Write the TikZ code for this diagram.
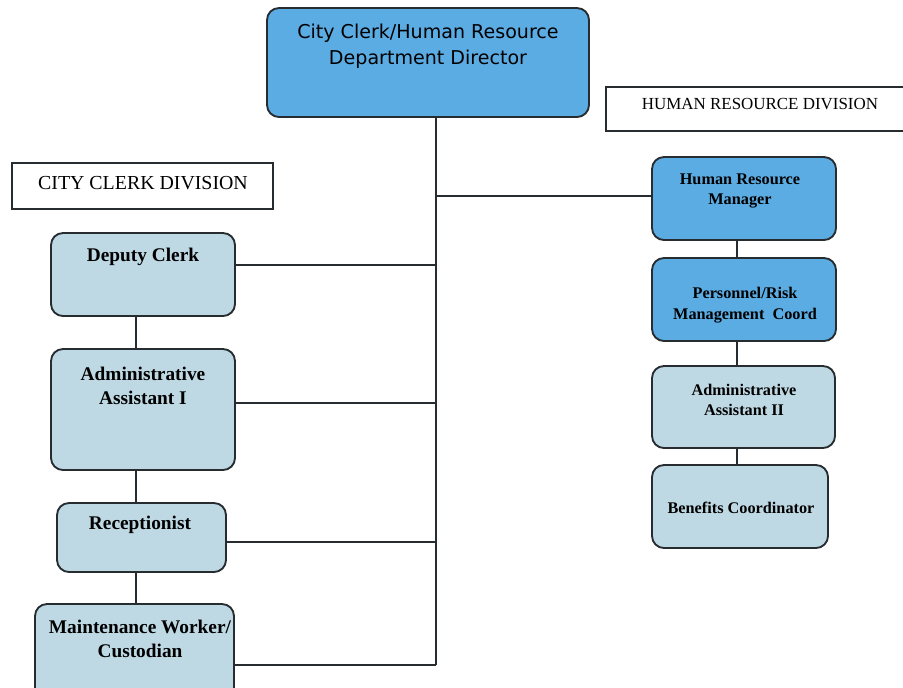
\documentclass[tikz,border=0pt]{standalone}
\usepackage{fontspec}
\setmainfont{Liberation Serif}
\newfontfamily\headfont{DejaVu Sans}
\usetikzlibrary{fit}
\definecolor{darkbox}{RGB}{92,172,228}
\definecolor{lightbox}{RGB}{190,217,228}
\definecolor{edge}{RGB}{38,44,48}
\tikzset{
  orgbox/.style={draw=edge, line width=1.4pt, rounded corners=9pt, inner sep=0pt},
  darkunit/.style={orgbox, fill=darkbox},
  lightunit/.style={orgbox, fill=lightbox},
  divbox/.style={draw=edge, line width=1pt, inner sep=0pt},
  link/.style={draw=edge, line width=1pt},
  bigtxt/.style={align=center, font=\bfseries\fontsize{14.5}{18.5}\selectfont},
  smalltxt/.style={align=center, font=\bfseries\fontsize{12.2}{15.5}\selectfont}
}
\begin{document}
\begin{tikzpicture}[x=0.75pt,y=0.75pt,yscale=-1,xscale=1]
\useasboundingbox (0,0) rectangle (903,687);

%Rounded Rect: director
\node (director) [darkunit, fit={(267,8) (589,117)}] {};
% Text Node
\node (dirtxt) at (428,46) [align=center, font=\headfont\fontsize{14.3}{19.5}\selectfont] {City Clerk/Human Resource\\Department Director};

%Shape: Rectangle (division titles)
\node (ccdiv) [divbox, fit={(12,163) (273,209)}] {};
\node (ccdivtxt) at (143,183) [font=\fontsize{14.9}{17}\selectfont] {CITY CLERK DIVISION};
\node (hrdiv) [divbox, fit={(606,87) (910,131)}] {};
\node (hrdivtxt) at (760,104) [font=\fontsize{12.7}{15}\selectfont] {HUMAN RESOURCE DIVISION};

%Rounded Rect: city clerk side
\node (deputy) [lightunit, fit={(51,233) (235,316)}] {};
% Text Node
\node (deputytxt) at (143,257) [bigtxt] {Deputy Clerk};
\node (admin1) [lightunit, fit={(51,349) (235,470)}] {};
% Text Node
\node (admin1txt) at (143,386) [bigtxt] {Administrative\\Assistant I};
\node (recep) [lightunit, fit={(57,503) (226,572)}] {};
% Text Node
\node (receptxt) at (140,525) [bigtxt] {Receptionist};
\node (maint) [lightunit, fit={(35,604) (234,705)}] {};
% Text Node
\node (mainttxt) at (140,639) [bigtxt] {Maintenance Worker/\\Custodian};

%Rounded Rect: human resource side
\node (hrmgr) [darkunit, fit={(652,157) (836,240)}] {};
% Text Node
\node (hrmgrtxt) at (740,191) [smalltxt] {Human Resource\\Manager};
\node (persrisk) [darkunit, fit={(652,258) (836,341)}] {};
% Text Node
\node (persrisktxt) at (745,305) [smalltxt] {Personnel/Risk\\Management\ \ Coord};
\node (admin2) [lightunit, fit={(652,366) (835,448)}] {};
% Text Node
\node (admin2txt) at (744,400) [smalltxt] {Administrative\\Assistant II};
\node (benefits) [lightunit, fit={(652,465) (828,548)}] {};
% Text Node
\node (benefitstxt) at (741,508) [smalltxt] {Benefits Coordinator};

%Straight Lines: trunk and branches
\coordinate (jhr) at (436,196);
\coordinate (jdep) at (436,265);
\coordinate (jad) at (436,403);
\coordinate (jrec) at (436,542);
\coordinate (trunkend) at (436,665);
\draw [link] (director.south -| trunkend) -- (trunkend);
\draw [link] (jhr) -- (jhr -| hrmgr.west);
\draw [link] (jdep) -- (jdep -| deputy.east);
\draw [link] (jad) -- (jad -| admin1.east);
\draw [link] (jrec) -- (jrec -| recep.east);
\draw [link] (trunkend) -- (trunkend -| maint.east);

%Straight Lines: columns
\coordinate (lcol) at (136,0);
\coordinate (rcol) at (737,0);
\draw [link] (deputy.south -| lcol) -- (admin1.north -| lcol);
\draw [link] (admin1.south -| lcol) -- (recep.north -| lcol);
\draw [link] (recep.south -| lcol) -- (maint.north -| lcol);
\draw [link] (hrmgr.south -| rcol) -- (persrisk.north -| rcol);
\draw [link] (persrisk.south -| rcol) -- (admin2.north -| rcol);
\draw [link] (admin2.south -| rcol) -- (benefits.north -| rcol);

\end{tikzpicture}
\end{document}
